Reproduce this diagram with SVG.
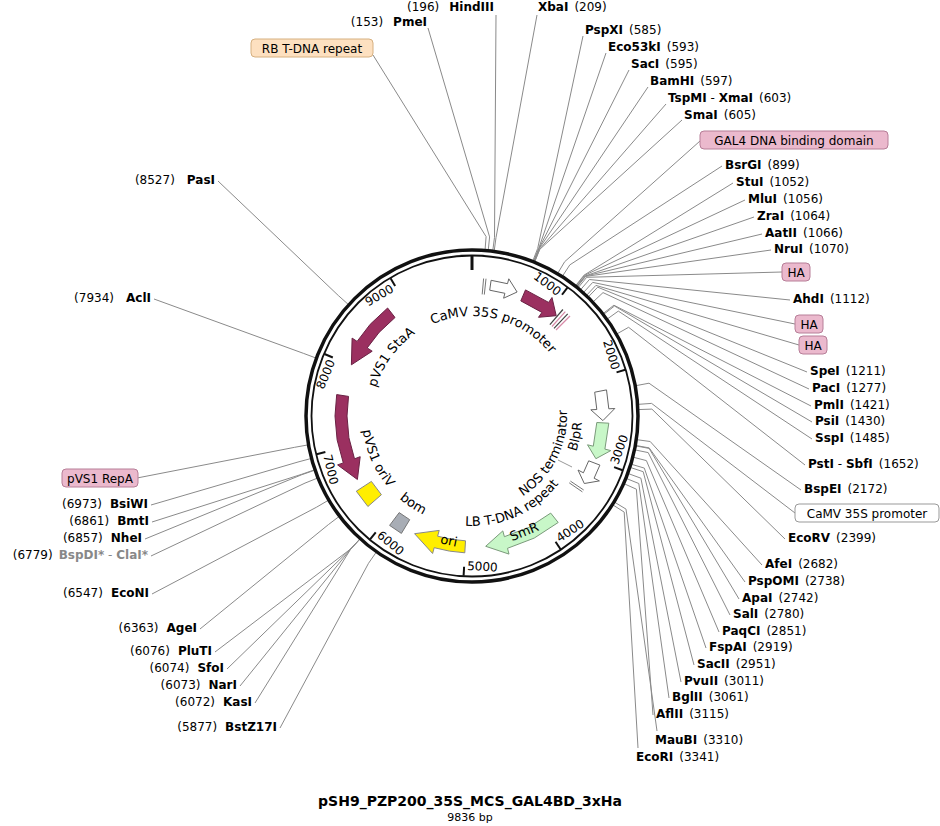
<svg xmlns="http://www.w3.org/2000/svg" width="940" height="826" viewBox="0 0 940 826">
<style>
text{font-family:"DejaVu Sans","Liberation Sans",sans-serif;font-size:12px;fill:#000}
.b{font-weight:bold}
.g{fill:#888}
.lead polyline{fill:none;stroke:#8a8a8a;stroke-width:1}
.ft{font-size:13px}
.tk{stroke:#111;stroke-width:2}
.bx{fill:#ebb9cd;stroke:#b77e98;stroke-width:1}
</style>
<defs>
<path id="cw100" d="M472,516 A100,100 0 1 1 472,316 A100,100 0 1 1 472,516"/>
<path id="ccw110" d="M472,306 A110,110 0 1 0 472,526 A110,110 0 1 0 472,306"/>
<path id="ccw95" d="M472,321 A95,95 0 1 0 472,511 A95,95 0 1 0 472,321"/>
</defs>
<rect width="940" height="826" fill="#fff"/>
<g id="connectors" class="lead">
<polyline points="496,15 494.5,237.4 492.7,251.3"/>
<polyline points="428,28 489.6,236.9 488.2,250.8"/>
<polyline points="373,55 486.1,236.6 485,250.5"/>
<polyline points="537,15 496,237.6 494.1,251.5"/>
<polyline points="583,36 537.7,248.4 532.6,261.5"/>
<polyline points="606,53 538.6,248.8 533.4,261.8"/>
<polyline points="629,70 538.8,248.8 533.6,261.9"/>
<polyline points="648,87 539,248.9 533.8,261.9"/>
<polyline points="666,104 539.6,249.2 534.4,262.2"/>
<polyline points="682,120 539.8,249.3 534.6,262.2"/>
<polyline points="700,141 564.7,261.7 557.5,273.7"/>
<polyline points="722,166 569.8,264.9 562.2,276.6"/>
<polyline points="733,183 584.1,275.1 575.3,286.1"/>
<polyline points="745,200 584.4,275.4 575.7,286.4"/>
<polyline points="754,217 585.1,276 576.3,286.9"/>
<polyline points="762,234 585.3,276.1 576.5,287"/>
<polyline points="771,250 585.7,276.4 576.8,287.3"/>
<polyline points="782,272 586.7,277.3 577.8,288.1"/>
<polyline points="790,300 589.4,279.5 580.2,290.2"/>
<polyline points="795,324 592.7,282.4 583.3,292.8"/>
<polyline points="799,345 595.9,285.4 586.3,295.6"/>
<polyline points="807,372 597.7,287.2 588,297.2"/>
<polyline points="809,389 603,292.6 592.8,302.2"/>
<polyline points="811,406 613.9,305.2 602.8,313.8"/>
<polyline points="812,422 614.5,306 603.4,314.6"/>
<polyline points="812,439 618.3,311.1 606.9,319.3"/>
<polyline points="805,465 628.6,327.3 616.4,334.2"/>
<polyline points="801,490 649,383.2 635.2,385.8"/>
<polyline points="795,513 651.6,403.4 637.6,404.4"/>
<polyline points="785,539 651.9,409.1 637.9,409.6"/>
<polyline points="762,565 650.2,441.5 636.3,439.6"/>
<polyline points="745,582 649.2,447.9 635.4,445.4"/>
<polyline points="739,599 649.1,448.4 635.3,445.8"/>
<polyline points="730,615 648.2,452.6 634.5,449.8"/>
<polyline points="719,632 646.4,460.6 632.8,457.1"/>
<polyline points="706,648 644.3,468.1 630.9,464.1"/>
<polyline points="694,665 643.2,471.7 629.9,467.3"/>
<polyline points="681,682 640.9,478.2 627.8,473.4"/>
<polyline points="669,698 638.8,483.5 625.9,478.3"/>
<polyline points="653,715 636.4,489.2 623.6,483.5"/>
<polyline points="657,731 626,509.1 614.1,501.9"/>
<polyline points="638,748 624.2,512.1 612.4,504.6"/>
<polyline points="218,181 338.3,295.5 348.7,304.8"/>
<polyline points="154,299 303.3,353.3 316.4,358.2"/>
<polyline points="137,478 294.7,447.3 308.5,444.8"/>
<polyline points="151,505 298,462 311.5,458.4"/>
<polyline points="152,522 301.7,474.3 314.9,469.7"/>
<polyline points="145,539 301.8,474.7 315.1,470.1"/>
<polyline points="151,556 305,483.1 318,477.9"/>
<polyline points="152,594 316.7,507.1 328.8,500"/>
<polyline points="200,629 328.4,524.6 339.6,516.1"/>
<polyline points="215,652 350.6,549 360.1,538.6"/>
<polyline points="227,669 350.6,549 360.2,538.7"/>
<polyline points="240,686 350.7,549 360.2,538.7"/>
<polyline points="255,703 350.7,549.1 360.3,538.8"/>
<polyline points="280,728 368.5,563.3 376.5,551.8"/>
</g>
<g id="backbone">
<circle cx="472" cy="416" r="166" fill="none" stroke="#111" stroke-width="3.5"/>
<circle cx="472" cy="416" r="160.5" fill="none" stroke="#111" stroke-width="1.8"/>
<line x1="472" y1="256" x2="472" y2="270" stroke="#111" stroke-width="3"/>
<g class="tk">
<line x1="472" y1="256" x2="472" y2="265" transform="rotate(36.6 472 416)"/>
<line x1="472" y1="256" x2="472" y2="265" transform="rotate(73.2 472 416)"/>
<line x1="472" y1="256" x2="472" y2="265" transform="rotate(109.8 472 416)"/>
<line x1="472" y1="256" x2="472" y2="265" transform="rotate(146.4 472 416)"/>
<line x1="472" y1="256" x2="472" y2="265" transform="rotate(183 472 416)"/>
<line x1="472" y1="256" x2="472" y2="265" transform="rotate(219.6 472 416)"/>
<line x1="472" y1="256" x2="472" y2="265" transform="rotate(256.2 472 416)"/>
<line x1="472" y1="256" x2="472" y2="265" transform="rotate(292.8 472 416)"/>
<line x1="472" y1="256" x2="472" y2="265" transform="rotate(329.4 472 416)"/>
</g>
<text x="469" y="269" text-anchor="end" transform="rotate(36.6 472 416)">1000</text>
<text x="469" y="269" text-anchor="end" transform="rotate(73.2 472 416)">2000</text>
<text x="475" y="570" transform="rotate(-70.2 472 416)">3000</text>
<text x="475" y="570" transform="rotate(-33.6 472 416)">4000</text>
<text x="475" y="570" transform="rotate(3 472 416)">5000</text>
<text x="475" y="570" transform="rotate(39.6 472 416)">6000</text>
<text x="475" y="570" transform="rotate(76.2 472 416)">7000</text>
<text x="469" y="269" text-anchor="end" transform="rotate(292.8 472 416)">8000</text>
<text x="469" y="269" text-anchor="end" transform="rotate(329.4 472 416)">9000</text>
</g>
<g id="features" stroke-width="1">
<g id="rb-repeat" stroke="#777"><line x1="482.2" y1="294.4" x2="483.6" y2="278.5"/><line x1="484.3" y1="294.6" x2="486" y2="278.7"/></g>
<polygon id="camv1" points="491.1,280.3 507.5,283.7 508.8,278.8 517.1,292 503.6,298.2 504.9,293.3 489.7,290.2" fill="#fff" stroke="#666"/>
<polygon id="gal4" points="525.5,289.9 548.6,302.4 552,297.5 556.2,315.7 538.5,317.3 541.9,312.4 520.8,300.9" fill="#9b3060" stroke="#6a2244"/>
<g id="ha" stroke="#444" stroke-width="1.2"><line x1="549.9" y1="324.7" x2="562.9" y2="309.5"/><line x1="552" y1="326.5" x2="565.3" y2="311.6" stroke="#d88aa8"/><line x1="554" y1="328.4" x2="567.7" y2="313.8"/><line x1="556" y1="330" x2="570" y2="316" stroke="#d88aa8"/></g>
<polygon id="camv2" points="606.5,389.9 608.8,408.8 614.8,408.5 602.9,420.6 590.8,409.8 596.8,409.5 594.7,392.2" fill="#fff" stroke="#666"/>
<polygon id="blpr" points="608.8,423.2 604.9,449.1 610.8,450.6 595.9,458.7 587.5,444.8 593.3,446.2 596.8,422.5" fill="#c8f7c8" stroke="#7a9a7a"/>
<polygon id="nos" points="599.9,465.1 594.1,478.2 599.4,480.9 584.3,483.5 578,470 583.4,472.8 588.7,460.8" fill="#fff" stroke="#666"/>
<g id="lb-repeat" stroke="#777"><line x1="570.4" y1="481.1" x2="583.7" y2="490"/><line x1="569.2" y1="482.8" x2="582.4" y2="491.9"/></g>
<line x1="558" y1="460" x2="572" y2="467" stroke="#999"/>
<polygon id="smr" points="558.2,522.5 534.2,538.1 507.5,548.3 509,554.1 485.7,546.3 502.8,530.9 504.4,536.7 528.8,527.4 550.7,513.1" fill="#c8f7c8" stroke="#7a9a7a"/>
<polygon id="ori" points="464.8,552.8 449.4,551.1 434.2,547.7 432.6,553.5 414.6,533.7 439.2,530.4 437.6,536.2 451.4,539.3 465.5,540.8" fill="#ffee00" stroke="#888"/>
<polygon id="bom" points="401.4,533.4 389.6,525.4 399.2,512.6 409.7,519.7" fill="#a8adb5" stroke="#777"/>
<polygon id="oriV" points="367.9,506.5 356.3,491.2 371.4,481.4 381.4,494.7" fill="#ffee00" stroke="#888"/>
<polygon id="repA" points="336.7,394.6 335,416 337.1,439.8 343.3,462.9 337.6,464.9 357.4,479.5 360.2,456.7 354.5,458.8 348.9,437.7 347,416 348.5,396.4" fill="#9b3060" stroke="#6a2244"/>
<polygon id="staA" points="387.6,308 370.2,324.3 357.1,341.4 352.1,338.1 351.4,364.8 372.2,351.2 367.2,347.9 379.1,332.4 395,317.5" fill="#9b3060" stroke="#6a2244"/>
</g>
<g id="feature-labels" class="ft">
<text class="ft"><textPath href="#cw100" startOffset="53.9%" text-anchor="middle">CaMV 35S promoter</textPath></text>
<text class="ft"><textPath href="#cw100" startOffset="35%" text-anchor="middle">pVS1 StaA</textPath></text>
<text class="ft"><textPath href="#ccw110" startOffset="31.7%" text-anchor="middle">pVS1 oriV</textPath></text>
<text class="ft"><textPath href="#ccw110" startOffset="40.6%" text-anchor="middle">bom</textPath></text>
<text class="ft"><textPath href="#ccw110" startOffset="56.7%" text-anchor="middle">LB T-DNA repeat</textPath></text>
<text class="ft"><textPath href="#ccw95" startOffset="67.5%" text-anchor="middle">NOS terminator</textPath></text>
<text class="ft"><textPath href="#ccw110" startOffset="71.9%" text-anchor="middle">BlpR</textPath></text>
<text class="ft" x="449" y="545" text-anchor="middle" transform="rotate(12 449 540)">ori</text>
<text class="ft" x="524" y="536" text-anchor="middle" transform="rotate(-22 524 531)">SmR</text>
</g>
<g id="label-boxes">
<rect x="251" y="39" width="122" height="18" rx="4" fill="#fde0c0" stroke="#d6b080"/><text x="312" y="53" text-anchor="middle">RB T-DNA repeat</text>
<rect x="700" y="131" width="188" height="18" rx="4" class="bx"/><text x="794" y="145" text-anchor="middle">GAL4 DNA binding domain</text>
<rect x="782" y="263" width="28" height="18" rx="4" class="bx"/><text x="796" y="277" text-anchor="middle">HA</text>
<rect x="795" y="315" width="28" height="18" rx="4" class="bx"/><text x="809" y="329" text-anchor="middle">HA</text>
<rect x="799" y="336" width="28" height="18" rx="4" class="bx"/><text x="813" y="350" text-anchor="middle">HA</text>
<rect x="795" y="504" width="144" height="18" rx="4" fill="#fff" stroke="#999"/><text x="867" y="518" text-anchor="middle">CaMV 35S promoter</text>
<rect x="62" y="469" width="76" height="18" rx="4" class="bx"/><text x="100" y="483" text-anchor="middle">pVS1 RepA</text>
</g>
<g id="site-labels">
<text x="494" y="11" text-anchor="end">(196)<tspan class="b" dx="10">HindIII</tspan></text>
<text x="427" y="26" text-anchor="end">(153)<tspan class="b" dx="10">PmeI</tspan></text>
<text x="538" y="11"><tspan class="b">XbaI</tspan><tspan dx="6">(209)</tspan></text>
<text x="585" y="34"><tspan class="b">PspXI</tspan><tspan dx="6">(585)</tspan></text>
<text x="608" y="51"><tspan class="b">Eco53kI</tspan><tspan dx="6">(593)</tspan></text>
<text x="631" y="68"><tspan class="b">SacI</tspan><tspan dx="6">(595)</tspan></text>
<text x="650" y="85"><tspan class="b">BamHI</tspan><tspan dx="6">(597)</tspan></text>
<text x="668" y="102"><tspan class="b">TspMI</tspan> - <tspan class="b">XmaI</tspan><tspan dx="6">(603)</tspan></text>
<text x="684" y="119"><tspan class="b">SmaI</tspan><tspan dx="6">(605)</tspan></text>
<text x="725" y="169"><tspan class="b">BsrGI</tspan><tspan dx="6">(899)</tspan></text>
<text x="736" y="186"><tspan class="b">StuI</tspan><tspan dx="6">(1052)</tspan></text>
<text x="748" y="203"><tspan class="b">MluI</tspan><tspan dx="6">(1056)</tspan></text>
<text x="757" y="220"><tspan class="b">ZraI</tspan><tspan dx="6">(1064)</tspan></text>
<text x="765" y="237"><tspan class="b">AatII</tspan><tspan dx="6">(1066)</tspan></text>
<text x="774" y="253"><tspan class="b">NruI</tspan><tspan dx="6">(1070)</tspan></text>
<text x="793" y="303"><tspan class="b">AhdI</tspan><tspan dx="6">(1112)</tspan></text>
<text x="810" y="375"><tspan class="b">SpeI</tspan><tspan dx="6">(1211)</tspan></text>
<text x="812" y="392"><tspan class="b">PacI</tspan><tspan dx="6">(1277)</tspan></text>
<text x="814" y="409"><tspan class="b">PmlI</tspan><tspan dx="6">(1421)</tspan></text>
<text x="815" y="425"><tspan class="b">PsiI</tspan><tspan dx="6">(1430)</tspan></text>
<text x="815" y="442"><tspan class="b">SspI</tspan><tspan dx="6">(1485)</tspan></text>
<text x="808" y="468"><tspan class="b">PstI</tspan> - <tspan class="b">SbfI</tspan><tspan dx="6">(1652)</tspan></text>
<text x="804" y="493"><tspan class="b">BspEI</tspan><tspan dx="6">(2172)</tspan></text>
<text x="788" y="542"><tspan class="b">EcoRV</tspan><tspan dx="6">(2399)</tspan></text>
<text x="765" y="568"><tspan class="b">AfeI</tspan><tspan dx="6">(2682)</tspan></text>
<text x="748" y="585"><tspan class="b">PspOMI</tspan><tspan dx="6">(2738)</tspan></text>
<text x="742" y="602"><tspan class="b">ApaI</tspan><tspan dx="6">(2742)</tspan></text>
<text x="733" y="618"><tspan class="b">SalI</tspan><tspan dx="6">(2780)</tspan></text>
<text x="722" y="635"><tspan class="b">PaqCI</tspan><tspan dx="6">(2851)</tspan></text>
<text x="709" y="651"><tspan class="b">FspAI</tspan><tspan dx="6">(2919)</tspan></text>
<text x="697" y="668"><tspan class="b">SacII</tspan><tspan dx="6">(2951)</tspan></text>
<text x="684" y="685"><tspan class="b">PvuII</tspan><tspan dx="6">(3011)</tspan></text>
<text x="672" y="701"><tspan class="b">BglII</tspan><tspan dx="6">(3061)</tspan></text>
<text x="656" y="718"><tspan class="b">AflII</tspan><tspan dx="6">(3115)</tspan></text>
<text x="655" y="744"><tspan class="b">MauBI</tspan><tspan dx="6">(3310)</tspan></text>
<text x="636" y="761"><tspan class="b">EcoRI</tspan><tspan dx="6">(3341)</tspan></text>
<text x="215" y="184" text-anchor="end">(8527)<tspan class="b" dx="12">PasI</tspan></text>
<text x="151" y="302" text-anchor="end">(7934)<tspan class="b" dx="12">AclI</tspan></text>
<text x="148" y="508" text-anchor="end">(6973)<tspan class="b" dx="8">BsiWI</tspan></text>
<text x="149" y="525" text-anchor="end">(6861)<tspan class="b" dx="8">BmtI</tspan></text>
<text x="142" y="542" text-anchor="end">(6857)<tspan class="b" dx="8">NheI</tspan></text>
<text x="148" y="559" text-anchor="end">(6779)<tspan class="b g" dx="6">BspDI*</tspan><tspan class="g"> - </tspan><tspan class="b g">ClaI*</tspan></text>
<text x="149" y="597" text-anchor="end">(6547)<tspan class="b" dx="8">EcoNI</tspan></text>
<text x="197" y="632" text-anchor="end">(6363)<tspan class="b" dx="8">AgeI</tspan></text>
<text x="212" y="655" text-anchor="end">(6076)<tspan class="b" dx="8">PluTI</tspan></text>
<text x="224" y="672" text-anchor="end">(6074)<tspan class="b" dx="8">SfoI</tspan></text>
<text x="237" y="689" text-anchor="end">(6073)<tspan class="b" dx="8">NarI</tspan></text>
<text x="252" y="706" text-anchor="end">(6072)<tspan class="b" dx="8">KasI</tspan></text>
<text x="277" y="731" text-anchor="end">(5877)<tspan class="b" dx="8">BstZ17I</tspan></text>
</g>
<g id="title">
<text x="470" y="806" text-anchor="middle" class="b" style="font-size:14px">pSH9_PZP200_35S_MCS_GAL4BD_3xHa</text>
<text x="470" y="821" text-anchor="middle" style="font-size:11px">9836 bp</text>
</g>
</svg>
